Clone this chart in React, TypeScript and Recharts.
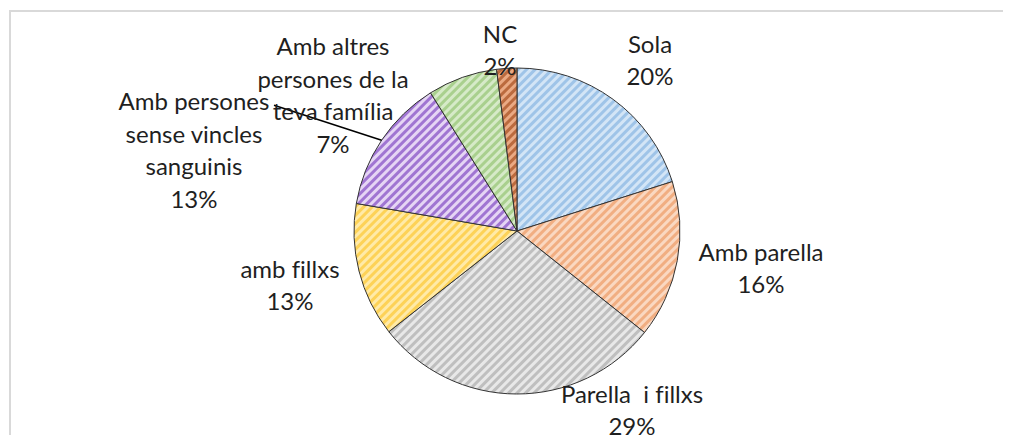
import React from 'react';
import { PieChart, Pie, Cell } from 'recharts';

const categories = [
  'Sola',
  'Amb parella',
  'Parella  i fillxs',
  'amb fillxs',
  'Amb persones sense vincles sanguinis',
  'Amb altres persones de la teva família',
  'NC',
];
const values = [20.1, 15.6, 28.7, 13.3, 13.4, 6.9, 2.0];
// label text split into lines as in the original
const labelLines = [
  ['Sola'],
  ['Amb parella'],
  ['Parella  i fillxs'],
  ['amb fillxs'],
  ['Amb persones', 'sense vincles', 'sanguinis'],
  ['Amb altres', 'persones de la', 'teva família'],
  ['NC'],
];
const title = 'Gràfic 11. Nucli de convivència';

// base colour and stripe colour per slice
const baseColors = ['#d3e5f6', '#fad8c1', '#e8e8e8', '#ffeaa8', '#e5d5f4', '#d6eac8', '#eaa983'];
const stripeColors = ['#9fc4e8', '#f1ae82', '#bfbfbf', '#fdd257', '#a075d2', '#a9d08e', '#bb6a3e'];

// label block centre offsets from the pie centre (manually placed in the source chart)
const labelOffsets = [
  [133, -172],
  [244, 36],
  [115, 178],
  [-227, 53],
  [-323, -82],
  [-184, -137],
  [-17, -182],
];

const data = categories.map((name, i) => ({ name, value: values[i] }));

const RAD = Math.PI / 180;
const LINE_H = 32.5;
const TEXT_COLOR = '#1f1f1f';
const FONT = 'Lato, sans-serif';

const renderLabel = (props: any) => {
  const { cx, cy, midAngle, outerRadius, index, percent } = props;
  const lines = [...labelLines[index], `${Math.round(percent * 100)}%`];
  const [ox, oy] = labelOffsets[index];
  const x = cx + ox;
  const top = cy + oy - ((lines.length - 1) * LINE_H) / 2;
  let leader = null;
  if (index === 4) {
    const ex = cx + outerRadius * Math.cos(-midAngle * RAD);
    const ey = cy + outerRadius * Math.sin(-midAngle * RAD);
    leader = <line x1={x + 80} y1={top + 5} x2={ex} y2={ey} stroke="#000" strokeWidth={1.5} />;
  }
  return (
    <g key={`lbl-${index}`}>
      {leader}
      <text
        x={x}
        y={top}
        textAnchor="middle"
        dominantBaseline="central"
        fill={TEXT_COLOR}
        fontSize={24}
        fontFamily={FONT}
        style={{ whiteSpace: 'pre', fontVariantLigatures: 'none' }}
      >
        {lines.map((l, j) => (
          <tspan key={j} x={x} dy={j === 0 ? 0 : LINE_H}>
            {l}
          </tspan>
        ))}
      </text>
    </g>
  );
};

export default function App() {
  return (
    <div style={{ position: 'relative', width: 1011, height: 443, margin: -8, overflow: 'hidden', background: '#fff' }}>
      <svg width={0} height={0} style={{ position: 'absolute' }}>
        <defs>
          {baseColors.map((c, i) => (
            <pattern
              key={i}
              id={`stripe-${i}`}
              width={6}
              height={6}
              patternUnits="userSpaceOnUse"
              patternTransform="rotate(45)"
            >
              <rect width={6} height={6} fill={c} />
              <rect width={3} height={6} fill={stripeColors[i]} />
            </pattern>
          ))}
        </defs>
      </svg>
      <div
        style={{
          position: 'absolute',
          left: 9,
          top: 10,
          width: 1010,
          height: 450,
          border: '2px solid #d9d9d9',
          boxSizing: 'border-box',
        }}
      />
      <div style={{ position: 'absolute', left: 0, top: 0 }}>
        <PieChart width={1011} height={443} margin={{ top: 0, right: 0, bottom: 0, left: 0 }}>
          <Pie
            data={data}
            dataKey="value"
            nameKey="name"
            cx={517}
            cy={231}
            outerRadius={163}
            startAngle={90}
            endAngle={-270}
            label={renderLabel}
            labelLine={false}
            isAnimationActive={false}
          >
            {data.map((d, i) => (
              <Cell key={d.name} fill={`url(#stripe-${i})`} stroke="#333" strokeWidth={1} />
            ))}
          </Pie>
        </PieChart>
      </div>
      {/* chart title, cropped at the top edge as in the source image */}
      <svg width={1011} height={20} style={{ position: 'absolute', left: 0, top: 0, zIndex: 5, overflow: 'visible' }}>
        <text x={18} y={8} fontFamily={FONT} fontSize={24} fill={TEXT_COLOR}>
          {title}
        </text>
      </svg>
    </div>
  );
}
